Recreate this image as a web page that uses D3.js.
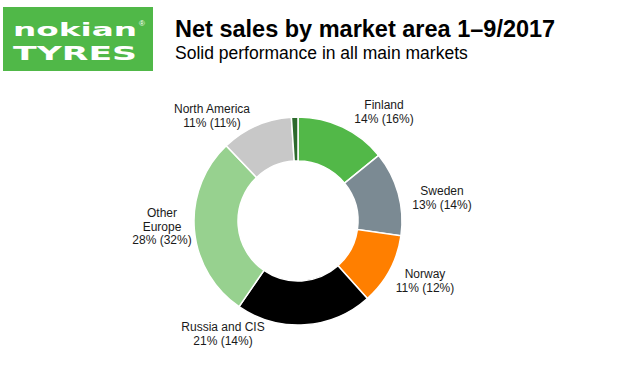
<!DOCTYPE html>
<html>
<head>
<meta charset="utf-8">
<script src="https://cdn.jsdelivr.net/npm/d3@7"></script>
<style>
  body { margin: 0; background: #fff; }
  svg { display: block; font-family: "Liberation Sans", Arial, sans-serif; }
</style>
</head>
<body>
<div class="chart"></div>
<script>
// data
const markets = ['Finland', 'Sweden', 'Norway', 'Russia and CIS', 'Other Europe', 'North America', 'Other'];
const share2017 = [14, 13, 11, 21, 28, 11, 1];
const share2016 = [16, 14, 12, 14, 32, 11, null];
const colors = ['#52b848', '#7b8a93', '#ff7f00', '#000000', '#97d18f', '#c8c8c8', '#2d6a2d'];

// label placement (layout only)
const labelPos = {
  'Finland':        {x: 384, y: 109, lines: ['Finland']},
  'Sweden':         {x: 442, y: 195, lines: ['Sweden']},
  'Norway':         {x: 425, y: 278, lines: ['Norway']},
  'Russia and CIS': {x: 223, y: 331, lines: ['Russia and CIS']},
  'Other Europe':   {x: 162, y: 217, lines: ['Other', 'Europe']},
  'North America':  {x: 212, y: 113, lines: ['North America']}
};

const width = 620, height = 371;
const cx = 298, cy = 221, outerR = 104, innerR = 60;

const svg = d3.select('.chart')
  .append('svg')
  .attr('width', width)
  .attr('height', height);

// logo block
const logo = svg.append('g');
logo.append('rect')
  .attr('x', 3).attr('y', 7)
  .attr('width', 150).attr('height', 64)
  .attr('fill', '#50b848');
logo.append('text')
  .attr('x', 13).attr('y', 36)
  .attr('textLength', 124)
  .attr('lengthAdjust', 'spacingAndGlyphs')
  .attr('fill', '#fff')
  .attr('font-family', 'DejaVu Sans')
  .attr('font-weight', 'bold')
  .attr('font-size', 18)
  .text('nokian');
logo.append('text')
  .attr('x', 139).attr('y', 26)
  .attr('fill', '#fff')
  .attr('font-size', 8)
  .text('®');
logo.append('text')
  .attr('x', 13).attr('y', 60)
  .attr('textLength', 124)
  .attr('lengthAdjust', 'spacingAndGlyphs')
  .attr('fill', '#fff')
  .attr('font-family', 'DejaVu Sans')
  .attr('font-weight', 'bold')
  .attr('font-size', 20)
  .text('TYRES');

// titles
svg.append('text')
  .attr('x', 175).attr('y', 37)
  .attr('font-size', 23.5)
  .attr('font-weight', 'bold')
  .attr('fill', '#000')
  .text('Net sales by market area 1–9/2017');
svg.append('text')
  .attr('x', 175).attr('y', 59)
  .attr('font-size', 17.5)
  .attr('fill', '#000')
  .text('Solid performance in all main markets');

// donut
const data = markets.map((m, i) => ({name: m, value: share2017[i], prev: share2016[i], color: colors[i]}));

const pie = d3.pie()
  .sort(null)
  .value(d => d.value);

const arc = d3.arc()
  .innerRadius(innerR)
  .outerRadius(outerR);

const g = svg.append('g')
  .attr('transform', 'translate(' + cx + ',' + cy + ')');

g.selectAll('path')
  .data(pie(data))
  .enter()
  .append('path')
  .attr('d', arc)
  .attr('fill', d => d.data.color)
  .attr('stroke', '#fff')
  .attr('stroke-width', 1.5);

// labels
const labels = svg.append('g')
  .attr('font-size', 12)
  .attr('fill', '#1a1a1a')
  .attr('text-anchor', 'middle');

data.filter(d => labelPos[d.name]).forEach(d => {
  const p = labelPos[d.name];
  const t = labels.append('text').attr('x', p.x).attr('y', p.y);
  p.lines.forEach((l, i) => {
    t.append('tspan').attr('x', p.x).attr('dy', i === 0 ? 0 : 13.5).text(l);
  });
  t.append('tspan').attr('x', p.x).attr('dy', 13.5)
    .text(d.value + '% (' + d.prev + '%)');
});
</script>
</body>
</html>
